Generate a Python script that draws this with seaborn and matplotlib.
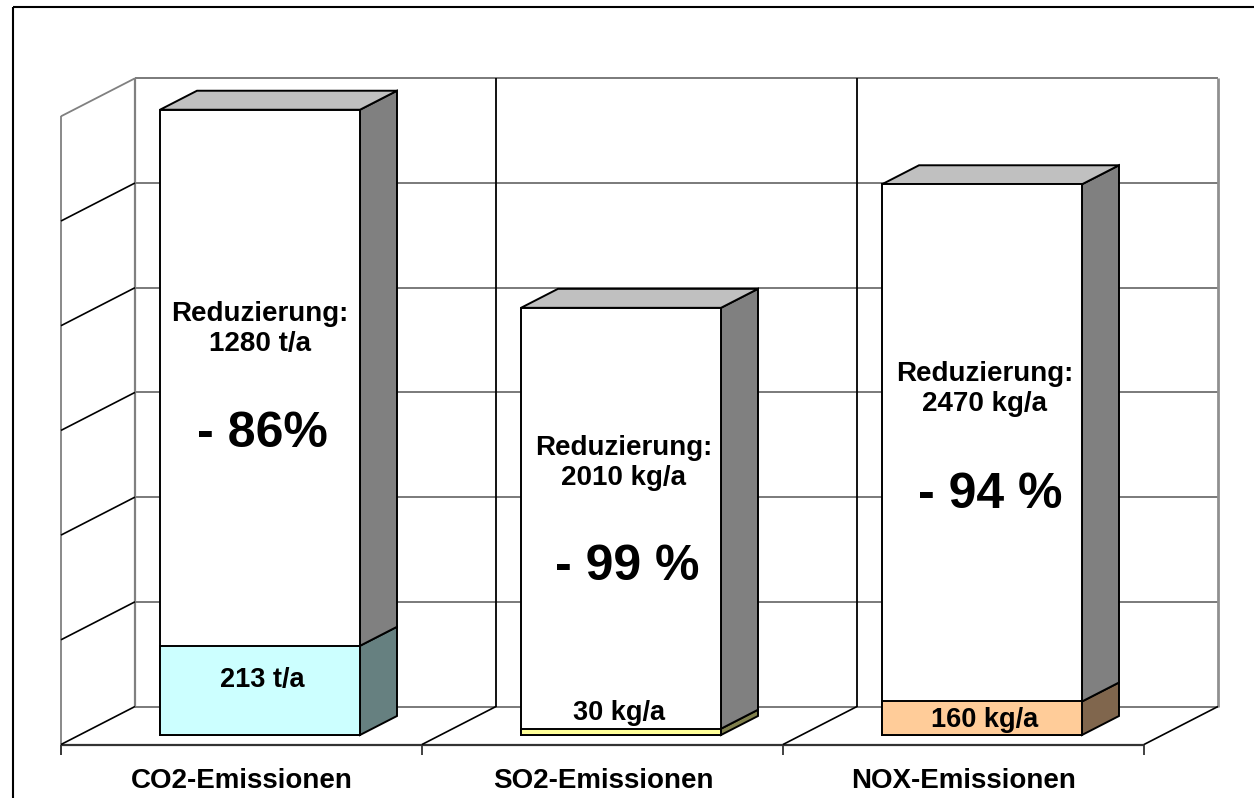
import matplotlib
matplotlib.use("Agg")
import matplotlib.pyplot as plt
from matplotlib.patches import Polygon
import seaborn as sns
import pandas as pd

# ---------------- data ----------------
categories = ["CO2-Emissionen", "SO2-Emissionen", "NOX-Emissionen"]
# plotted (scaled) values of each stacked segment
remaining = [213, 15, 80]          # lower coloured segment
reduction = [1280, 1005, 1235]     # upper white segment
remaining_labels = ["213 t/a", "30 kg/a", "160 kg/a"]
reduction_labels = ["Reduzierung:\n1280 t/a", "Reduzierung:\n2010 kg/a", "Reduzierung:\n2470 kg/a"]
percent_labels = ["- 86%", "- 99 %", "- 94 %"]
yticks = [0, 250, 500, 750, 1000, 1250, 1500]

front_colors = ["#CCFFFF", "#FFFF99", "#FFCC99"]
side_colors = ["#668080", "#80804D", "#80664D"]

# ---------------- figure ----------------
W, H = 1254, 798
sns.set_theme(style="white")
plt.rcParams["font.family"] = ["Liberation Sans", "DejaVu Sans"]
plt.rcParams["text.color"] = "black"
fig = plt.figure(figsize=(W / 100, H / 100), dpi=100)
ax = fig.add_axes([0, 0, 1, 1])

df = pd.DataFrame({"cat": categories,
                   "total": [a + b for a, b in zip(remaining, reduction)],
                   "low": remaining})
BW = 0.554
sns.barplot(data=df, x="cat", y="total", color="white", width=BW, saturation=1,
            edgecolor="black", linewidth=1.4, ax=ax, zorder=5)
sns.barplot(data=df, x="cat", y="low", hue="cat", palette=front_colors, saturation=1,
            width=BW, edgecolor="black", linewidth=1.4, ax=ax, legend=False, zorder=6)

# pixel mapping of axes
PX_PER_CAT = 361.0
X0PX = 260.0
Y0PX = 735.0
UNITS_PER_PX = 250 / 104.7
ax.set_xlim((0 - X0PX) / PX_PER_CAT, (W - X0PX) / PX_PER_CAT)
ax.set_ylim((Y0PX - H) * UNITS_PER_PX, Y0PX * UNITS_PER_PX)
ax.axis("off")

DX = 74 / PX_PER_CAT
DY = 38 * UNITS_PER_PX
FRONT = 0.25  # depth of bar front faces


def P(x, v, d):
    return (x + (d - FRONT) * DX, v + (d - FRONT) * DY)


def line(pts, color, lw=1.3, z=1):
    xs, ys = zip(*pts)
    ax.plot(xs, ys, color=color, lw=lw, zorder=z, solid_capstyle="butt")

xl, xr = -0.5, 2.5
top = yticks[-1]
# back wall
for v in yticks:
    line([P(xl, v, 1), P(xr, v, 1)], "#707070", 1.3)
line([P(xl, 0, 1), P(xl, top, 1)], "#808080", 1.6)
line([P(xr, 0, 1), P(xr, top, 1)], "#909090", 2.0)
for xd in [0.5, 1.5]:
    line([P(xd, 0, 1), P(xd, top, 1)], "black", 1.3)
# left wall
line([P(xl, -24, 0), P(xl, top, 0)], "#808080", 1.3)
for v in yticks[1:-1]:
    line([P(xl, v, 0), P(xl, v, 1)], "black", 1.2)
line([P(xl, top, 0), P(xl, top, 1)], "#808080", 1.3)
# floor
line([P(xl, 0, 0), P(xr, 0, 0)], "#333333", 1.6, 2)
for xd in [xl, 0.5, 1.5, xr]:
    line([P(xd, 0, 0), P(xd, 0, 1)], "black", 1.2, 2)
    line([P(xd, 0, 0), P(xd, -24, 0)], "#333333", 1.3, 2)

# 3-D faces of the bars
for i in range(len(categories)):
    xa, xb = i - BW / 2, i + BW / 2
    lo = remaining[i]
    tot = remaining[i] + reduction[i]
    segs = [(0, lo, side_colors[i]), (lo, tot, "#808080")]
    for v0, v1, c in segs:
        side = [P(xb, v0, FRONT), P(xb, v0, 0.75), P(xb, v1, 0.75), P(xb, v1, FRONT)]
        ax.add_patch(Polygon(side, closed=True, facecolor=c, edgecolor="black",
                             lw=1.4, zorder=4))
    topf = [P(xa, tot, FRONT), P(xa, tot, 0.75), P(xb, tot, 0.75), P(xb, tot, FRONT)]
    ax.add_patch(Polygon(topf, closed=True, facecolor="#C0C0C0", edgecolor="black",
                         lw=1.4, zorder=4))


def px(xp, yp):
    return ((xp - X0PX) / PX_PER_CAT, (Y0PX - yp) * UNITS_PER_PX)

# text
red_pos = [(260, 329), (624, 463), (985, 389)]
pct_pos = [(262, 434), (627, 567), (990, 495)]
low_pos = [(262, 680), (619, 713), (985, 720)]
for i in range(3):
    ax.text(*px(*red_pos[i]), reduction_labels[i], ha="center", va="center",
            fontsize=20, fontweight="bold", linespacing=1.22, zorder=10, color="black")
    ax.text(*px(*pct_pos[i]), percent_labels[i], ha="center", va="center",
            fontsize=36, fontweight="bold", zorder=10, color="black")
    ax.text(*px(*low_pos[i]), remaining_labels[i], ha="center", va="center",
            fontsize=19.5, fontweight="bold", zorder=10, color="black")
    ax.text(*px(242 + 361 * i, 781), categories[i], ha="center", va="center",
            fontsize=20, fontweight="bold", zorder=10, color="black")

# outer border (left and top)
line([px(13, 7), px(13, 800)], "black", 1.5, 20)
line([px(13, 7), px(1256, 7)], "black", 1.5, 20)

fig.savefig("out.png", dpi=100)
